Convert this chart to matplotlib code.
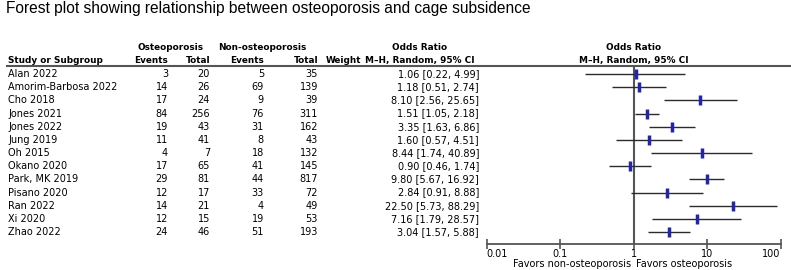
import numpy as np
import matplotlib.pyplot as plt
from matplotlib.lines import Line2D
from matplotlib.transforms import blended_transform_factory

studies = ["Alan 2022", "Amorim-Barbosa 2022", "Cho 2018", "Jones 2021", "Jones 2022",
           "Jung 2019", "Oh 2015", "Okano 2020", "Park, MK 2019", "Pisano 2020",
           "Ran 2022", "Xi 2020", "Zhao 2022"]
osteo_events = [3, 14, 17, 84, 19, 11, 4, 17, 29, 12, 14, 12, 24]
osteo_total = [20, 26, 24, 256, 43, 41, 7, 65, 81, 17, 21, 15, 46]
non_events = [5, 69, 9, 76, 31, 8, 18, 41, 44, 33, 4, 19, 51]
non_total = [35, 139, 39, 311, 162, 43, 132, 145, 817, 72, 49, 53, 193]
odds = [1.06, 1.18, 8.10, 1.51, 3.35, 1.60, 8.44, 0.90, 9.80, 2.84, 22.50, 7.16, 3.04]
ci_low = [0.22, 0.51, 2.56, 1.05, 1.63, 0.57, 1.74, 0.46, 5.67, 0.91, 5.73, 1.79, 1.57]
ci_high = [4.99, 2.74, 25.65, 2.18, 6.86, 4.51, 40.89, 1.74, 16.92, 8.88, 88.29, 28.57, 5.88]
ticks = [0.01, 0.1, 1, 10, 100]
tick_labels = ["0.01", "0.1", "1", "10", "100"]

W, H = 791, 270
fig = plt.figure(figsize=(W / 100, H / 100), dpi=100)
fs = 7
hfs = 6.4
font = "DejaVu Sans"

# forest panel: x from 0.01 to 100, top = header line, bottom = axis line
top_px, bot_px = 66, 244
row0, step = 74, 13.17
ax = fig.add_axes([486.7 / W, 1 - bot_px / H, (780.7 - 486.7) / W, (bot_px - top_px) / H])
ax.set_xscale("log")
ax.set_xlim(0.01, 100)
ax.set_ylim((bot_px - row0) / step, (top_px - row0) / step)
for s in ["top", "left", "right"]:
    ax.spines[s].set_visible(False)
ax.spines["bottom"].set_color("#555555")
ax.spines["bottom"].set_linewidth(1.3)
ax.set_yticks([])
ax.minorticks_off()
ax.set_xticks(ticks)
ax.set_xticklabels(tick_labels, fontsize=fs, family=font)
ax.tick_params(axis="x", direction="inout", length=7, width=1.2, color="#555555", pad=0.3)
labs = ax.get_xticklabels()
labs[0].set_ha("left")
labs[-1].set_ha("right")
ax.axvline(1, color="#555555", lw=1.5, zorder=1)

y = np.arange(len(studies))
ax.hlines(y, ci_low, ci_high, color="#2b2b2b", lw=1, zorder=2)
ax.plot(odds, y, ls="none", marker="|", ms=6.5, mew=2.5, color="#2424a8", zorder=3)

# table text aligned to row positions
tr = blended_transform_factory(fig.transFigure, ax.transData)
ftr = fig.transFigure

def fx(px):
    return px / W

def fy(px):
    return 1 - px / H

fig.text(fx(6), fy(13), "Forest plot showing relationship between osteoporosis and cage subsidence",
         fontsize=11.2, family="Liberation Sans", va="baseline")

hdr = dict(fontsize=hfs, family=font, weight="bold", va="center")
fig.text(fx(170), fy(48), "Osteoporosis", ha="center", **hdr)
fig.text(fx(262), fy(48), "Non-osteoporosis", ha="center", **hdr)
fig.text(fx(420), fy(48), "Odds Ratio", ha="center", **hdr)
fig.text(fx(634), fy(48), "Odds Ratio", ha="center", **hdr)
fig.text(fx(8), fy(61), "Study or Subgroup", ha="left", **hdr)
fig.text(fx(168), fy(61), "Events", ha="right", **hdr)
fig.text(fx(210), fy(61), "Total", ha="right", **hdr)
fig.text(fx(264), fy(61), "Events", ha="right", **hdr)
fig.text(fx(318), fy(61), "Total", ha="right", **hdr)
fig.text(fx(326), fy(61), "Weight", ha="left", **hdr)
fig.text(fx(420), fy(61), "M\u2013H, Random, 95% CI", ha="center", **hdr)
fig.text(fx(634), fy(61), "M\u2013H, Random, 95% CI", ha="center", **hdr)

fig.add_artist(Line2D([fx(7), fx(790)], [fy(top_px), fy(top_px)], transform=ftr,
                      color="#555555", lw=1.5))

cell = dict(fontsize=fs, family=font, va="center", transform=tr)
for i, name in enumerate(studies):
    ax.text(fx(8), i, name, ha="left", **cell)
    ax.text(fx(168), i, str(osteo_events[i]), ha="right", **cell)
    ax.text(fx(210), i, str(osteo_total[i]), ha="right", **cell)
    ax.text(fx(264), i, str(non_events[i]), ha="right", **cell)
    ax.text(fx(318), i, str(non_total[i]), ha="right", **cell)
    ax.text(fx(479), i, f"{odds[i]:.2f} [{ci_low[i]:.2f}, {ci_high[i]:.2f}]", ha="right", **cell)

ftr2 = blended_transform_factory(ax.transData, fig.transFigure)
ax.text(0.93, fy(264), "Favors non-osteoporosis", ha="right", va="center",
        fontsize=fs, family=font, transform=ftr2)
ax.text(1.07, fy(264), "Favors osteoporosis", ha="left", va="center",
        fontsize=fs, family=font, transform=ftr2)

fig.savefig("out.png", dpi=100, facecolor="white")
